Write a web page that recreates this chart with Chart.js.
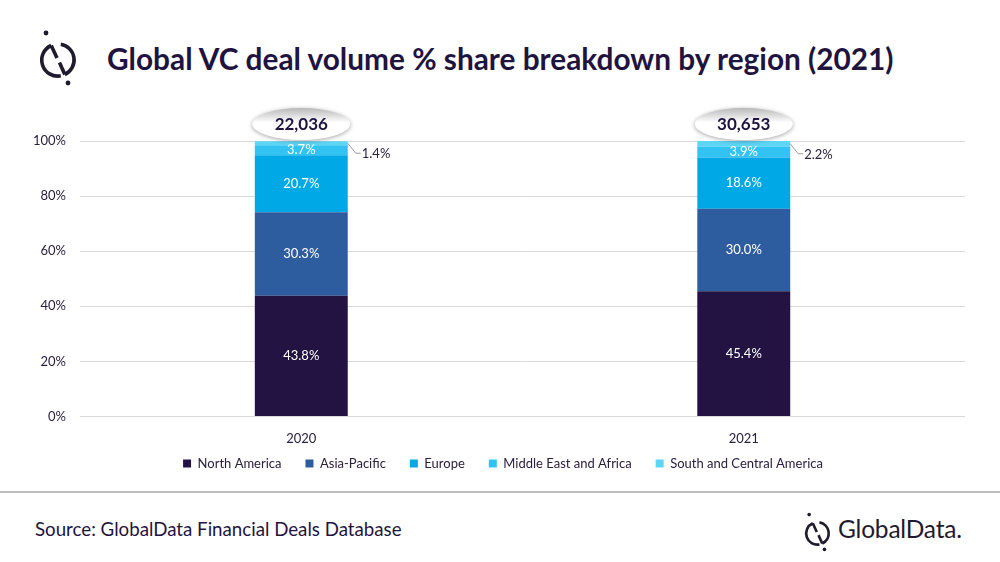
<!DOCTYPE html>
<html>
<head>
<meta charset="utf-8">
<script src="https://cdn.jsdelivr.net/npm/chart.js@4.4.0/dist/chart.umd.min.js"></script>
<style>
  html, body { margin: 0; padding: 0; background: #fff; }
  body { width: 1000px; height: 562px; position: relative; overflow: hidden; font-family: Lato, "Open Sans", sans-serif; }
  #title { position: absolute; left: 107px; top: 41px; font-size: 29.8px; font-weight: bold; color: #1f1440; white-space: nowrap; }
  #wrap { position: absolute; left: 0; top: 95px; width: 1000px; height: 415px; }
  #rule { position: absolute; left: 0; top: 491px; width: 1000px; height: 2px; background: #bdbdbd; }
  #source { position: absolute; left: 35px; top: 518px; font-size: 18.7px; color: #1f1440; }
  #brand { position: absolute; left: 838px; top: 514px; font-size: 24.5px; color: #1f1a2e; letter-spacing: -0.2px; }
  svg { position: absolute; }
</style>
</head>
<body>
<svg style="left:30px;top:28px" width="56" height="60" viewBox="0 0 56 60">
  <g fill="none" stroke="#1f1a2e" stroke-width="3.6" stroke-linecap="butt">
    <path d="M21.2 17.5 A16 16 0 0 0 30.8 47.8"/>
    <path d="M21.2 17.5 L27 30"/>
    <path d="M30.8 16.2 A16 16 0 0 1 34.8 46.5"/>
    <path d="M29.5 34.5 L34.8 46.5"/>
  </g>
  <circle cx="16" cy="5" r="2.4" fill="#1f1a2e"/>
  <circle cx="38" cy="55" r="2.4" fill="#1f1a2e"/>
</svg>
<div id="title">Global VC deal volume % share breakdown by region (2021)</div>
<div id="wrap"><canvas id="myChart"></canvas></div>
<div id="rule"></div>
<div id="source">Source: GlobalData Financial Deals Database</div>
<svg style="left:798px;top:511px" width="39" height="42" viewBox="0 0 56 60">
  <g fill="none" stroke="#1f1a2e" stroke-width="3.8" stroke-linecap="butt">
    <path d="M21.2 17.5 A16 16 0 0 0 30.8 47.8"/>
    <path d="M21.2 17.5 L27 30"/>
    <path d="M30.8 16.2 A16 16 0 0 1 34.8 46.5"/>
    <path d="M29.5 34.5 L34.8 46.5"/>
  </g>
  <circle cx="16" cy="5" r="2.6" fill="#1f1a2e"/>
  <circle cx="38" cy="55" r="2.6" fill="#1f1a2e"/>
</svg>
<div id="brand">GlobalData.</div>
<script>
const years = ['2020', '2021'];
const totals = ['22,036', '30,653'];
const northAmerica = [43.8, 45.4];
const asiaPacific = [30.3, 30.0];
const europe = [20.7, 18.6];
const middleEastAfrica = [3.7, 3.9];
const southCentralAmerica = [1.4, 2.2];
const yTicks = [0, 20, 40, 60, 80, 100];

const seriesNames = ['North America', 'Asia-Pacific', 'Europe', 'Middle East and Africa', 'South and Central America'];
const seriesData = [northAmerica, asiaPacific, europe, middleEastAfrica, southCentralAmerica];
const seriesColors = ['#231342', '#2e5d9f', '#00a8e6', '#33c3f2', '#5dd5f5'];

/* ---------- MOVE LEGEND CLOSER TO AXIS ---------- */
const legendShift = {
    id: 'legendShift',
    afterLayout(chart) {
        if (chart.legend) {
            chart.legend.top -= 21;
            chart.legend.bottom -= 21;
            chart.legend.left += 11;
            chart.legend.right += 11;
        }
    }
};

/* ---------- LABELS + CALLOUTS ---------- */
const labelPlugin = {
    id: 'labels',
    afterDatasetsDraw(chart) {
        const ctx = chart.ctx;
        ctx.save();
        ctx.font = '13px Lato, "Open Sans", sans-serif';
        ctx.textAlign = 'center';
        ctx.textBaseline = 'middle';
        chart.data.datasets.forEach((ds, di) => {
            const meta = chart.getDatasetMeta(di);
            meta.data.forEach((bar, i) => {
                const v = ds.data[i];
                if (di < 4) {
                    ctx.fillStyle = '#ffffff';
                    ctx.fillText(v.toFixed(1) + '%', bar.x, (bar.y + bar.base) / 2);
                } else {
                    // leader line to outside label
                    const right = bar.x + bar.width / 2;
                    const y0 = (bar.y + bar.base) / 2;
                    ctx.strokeStyle = '#9a9a9a';
                    ctx.lineWidth = 1;
                    ctx.beginPath();
                    ctx.moveTo(right, y0);
                    ctx.lineTo(right + 8, y0 + 10);
                    ctx.lineTo(right + 13, y0 + 10);
                    ctx.stroke();
                    ctx.fillStyle = '#2a2040';
                    ctx.textAlign = 'left';
                    ctx.fillText(v.toFixed(1) + '%', right + 14, y0 + 11);
                    ctx.textAlign = 'center';
                }
            });
        });
        // total callouts
        const top = chart.getDatasetMeta(4);
        top.data.forEach((bar, i) => {
            const cx = bar.x, cy = chart.scales.y.getPixelForValue(100) - 17;
            ctx.save();
            ctx.shadowColor = 'rgba(0,0,0,0.35)';
            ctx.shadowBlur = 4;
            ctx.shadowOffsetY = 1;
            const g = ctx.createLinearGradient(0, cy - 16, 0, cy + 16);
            g.addColorStop(0, '#b8b8b8');
            g.addColorStop(0.45, '#ffffff');
            g.addColorStop(1, '#ffffff');
            ctx.fillStyle = g;
            ctx.beginPath();
            ctx.ellipse(cx, cy, 49, 16, 0, 0, Math.PI * 2);
            ctx.fill();
            ctx.restore();
            ctx.fillStyle = '#1f1440';
            ctx.font = 'bold 17px Lato, "Open Sans", sans-serif';
            ctx.fillText(totals[i], cx, cy + 1);
        });
        ctx.restore();
    }
};

const ctx = document.getElementById('myChart').getContext('2d');
new Chart(ctx, {
    type: 'bar',
    data: {
        labels: years,
        datasets: seriesNames.map((name, i) => ({
            label: name,
            data: seriesData[i],
            backgroundColor: seriesColors[i],
            barPercentage: 0.21,
            categoryPercentage: 1
        }))
    },
    options: {
        responsive: true,
        maintainAspectRatio: false,
        animation: false,
        layout: { padding: { left: 19, right: 35, top: 46, bottom: 9 } },
        scales: {
            x: {
                stacked: true,
                grid: { display: false },
                border: { display: false },
                ticks: { color: '#2a2040', font: { size: 13, family: 'Lato' }, padding: 7 }
            },
            y: {
                stacked: true,
                min: 0,
                max: 100,
                afterBuildTicks: axis => { axis.ticks = yTicks.map(v => ({ value: v })); },
                grid: { color: '#d9d9d9', drawTicks: false },
                border: { display: false },
                ticks: {
                    color: '#2a2040',
                    font: { size: 13, family: 'Lato' },
                    padding: 14,
                    callback: v => v + '%'
                }
            }
        },
        plugins: {
            legend: {
                position: 'bottom',
                labels: {
                    boxWidth: 8,
                    boxHeight: 8,
                    color: '#2a2040',
                    font: { size: 13, family: 'Lato' },
                    padding: 24
                }
            },
            tooltip: { enabled: false }
        }
    },
    plugins: [legendShift, labelPlugin]
});
</script>
</body>
</html>
